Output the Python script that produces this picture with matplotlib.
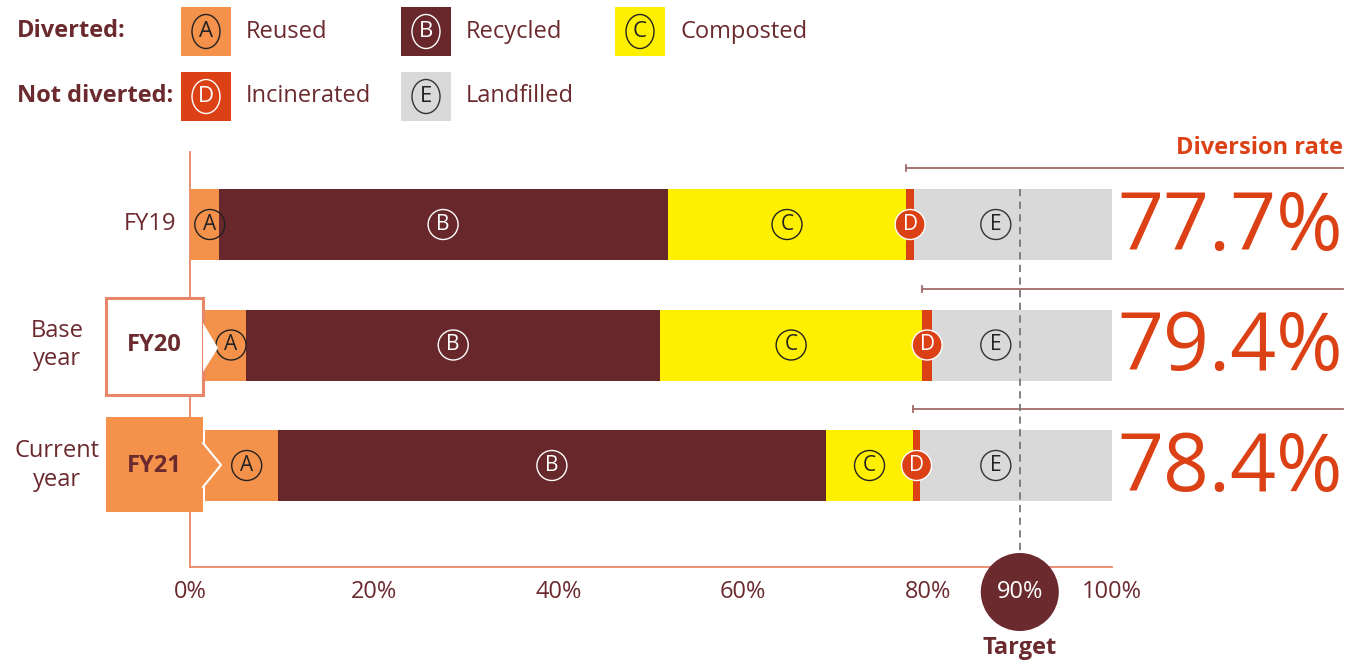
import matplotlib
matplotlib.use('Agg')
import matplotlib.pyplot as plt
from matplotlib.patches import Rectangle, Polygon, Ellipse

plt.rcParams['font.family'] = ['Open Sans', 'DejaVu Sans']

# data
years = ['FY19', 'FY20', 'FY21']
reused = [3.1, 6.1, 9.5]
recycled = [48.7, 44.9, 59.5]
composted = [25.9, 28.4, 9.4]
incinerated = [0.8, 1.1, 0.8]
landfilled = [21.5, 19.5, 20.8]
diversion = [77.7, 79.4, 78.4]
target = 90
xticks = [0, 20, 40, 60, 80, 100]

names = ['Reused', 'Recycled', 'Composted', 'Incinerated', 'Landfilled']
letters = ['A', 'B', 'C', 'D', 'E']
colors = ['#F4924C', '#68272A', '#FFF000', '#DC4116', '#D9D9D9']
ring = ['#222222', 'white', '#222222', 'white', '#333333']
brown = '#6B2A2E'
red = '#DC4116'
axis_col = '#E8866A'

W, H = 1350, 662
fig = plt.figure(figsize=(W / 100, H / 100), dpi=100)
ax = fig.add_axes([0, 0, 1, 1])
ax.axis('off')

# map 0% -> 190px, 100% -> 1112px ; rows 120.5px apart, first at 224.5px
ppu = (1112 - 190) / 100.0
x0 = -190 / ppu
ax.set_xlim(x0, x0 + W / ppu)
rowh = 120.5
y0 = -224.5 / rowh
ax.set_ylim(y0 + H / rowh, y0)


def px(x, y):
    # pixel -> data
    return x0 + x / ppu, y0 + y / rowh


series = [reused, recycled, composted, incinerated, landfilled]
ypos = list(range(len(years)))
bh = 71 / rowh
left = [0] * len(years)
lefts = []
for vals, c in zip(series, colors):
    ax.barh(ypos, vals, left=left, height=bh, color=c, zorder=2)
    lefts.append(left[:])
    left = [l + v for l, v in zip(left, vals)]

# circled letters inside bars
rx = 15 / ppu
ry = 15 / rowh


def badge(x, y, letter, fc, ec, tc, z=5):
    ax.add_patch(Ellipse((x, y), 2 * rx, 2 * ry, facecolor=fc, edgecolor=ec, lw=1.0, zorder=z))
    ax.text(x, y, letter, ha='center', va='center', fontsize=15, color=tc, zorder=z + 1)


for i in ypos:
    for k in range(5):
        l = lefts[k][i]
        v = series[k][i]
        if k == 0:
            start = max(l, 1.6 if i > 0 else 0)
            cx = (start + l + v) / 2 + 0.6
        elif k == 4:
            cx = 87.4
        else:
            cx = l + v / 2
        if k == 3:
            badge(cx, i, 'D', red, 'white', 'white', z=6)
        else:
            badge(cx, i, letters[k], 'none', ring[k], ring[k] if k != 4 else '#222222')

# axes lines
ax.plot([0, 0], [px(0, 152)[1], px(0, 567)[1]], color=axis_col, lw=1.3, zorder=1)
ax.plot([0, 100], [px(0, 567)[1]] * 2, color=axis_col, lw=1.3, zorder=1)

# target dashed line + circle
ax.plot([target, target], [px(0, 189)[1], px(0, 555)[1]], color='#777777', lw=1.3,
        ls=(0, (4, 3)), zorder=3)
ax.add_patch(Ellipse((target, px(0, 592)[1]), 78 / ppu, 78 / rowh, facecolor=brown,
                     edgecolor='none', zorder=4))
ax.text(target, px(0, 592)[1], '90%', ha='center', va='center', color='white', fontsize=17, zorder=5)
ax.text(target, px(0, 648)[1], 'Target', ha='center', va='center', color=brown,
        fontsize=17, fontweight='bold')

for t in xticks:
    if t == target:
        continue
    ax.text(t, px(0, 592)[1], f'{t}%', ha='center', va='center', color=brown, fontsize=17)

# diversion rate lines and values
ax.text(px(1343, 0)[0], px(0, 148)[1], 'Diversion rate', ha='right', va='center',
        color=red, fontsize=17, fontweight='bold')
for i, d in enumerate(diversion):
    ly = i - (56.5 / rowh)
    ax.plot([d, px(1343, 0)[0]], [ly, ly], color='#A36A6A', lw=1.3, zorder=2)
    ax.plot([d, d], [ly - 3 / rowh, ly + 3 / rowh], color='#A36A6A', lw=1.3)
    ax.text(px(1343, 0)[0], i + 4 / rowh, f'{d}%', ha='right', va='center', color=red,
            fontsize=58, fontweight='normal')

# row labels
ax.text(px(176, 0)[0], 0, years[0], ha='right', va='center', color=brown, fontsize=17)
ax.text(px(57, 0)[0], 1, 'Base\nyear', ha='center', va='center', color=brown, fontsize=17,
        linespacing=1.25)
ax.text(px(57, 0)[0], 2, 'Current\nyear', ha='center', va='center', color=brown, fontsize=17,
        linespacing=1.25)

# FY20 box (white, orange border) with arrow into bar
bx0, bx1 = px(106, 0)[0], px(203, 0)[0]
ax.add_patch(Rectangle((bx0, px(0, 298)[1]), bx1 - bx0, px(0, 395)[1] - px(0, 298)[1],
                       facecolor='white', edgecolor=axis_col, lw=2.2, zorder=7))
ax.add_patch(Polygon([px(203, 323), px(218, 348), px(203, 372)], closed=True,
                     facecolor='white', edgecolor='none', zorder=8))
ax.text((bx0 + bx1) / 2, 1, years[1], ha='center', va='center', color=brown,
        fontsize=17, fontweight='bold', zorder=9)

# FY21 box (orange) with white chevron
ax.add_patch(Rectangle((bx0, px(0, 417)[1]), bx1 - bx0, px(0, 512)[1] - px(0, 417)[1],
                       facecolor=colors[0], edgecolor='none', zorder=7))
ax.add_patch(Rectangle((bx1, px(0, 430)[1]), px(205, 0)[0] - bx1, bh,
                       facecolor='white', edgecolor='none', zorder=7))
ax.add_patch(Polygon([px(203, 443), px(221, 465), px(203, 487)],
                     closed=True, facecolor=colors[0], edgecolor='none', zorder=8))
ax.plot(*zip(px(203, 443), px(221, 465), px(203, 487)), color='white', lw=1.5, zorder=9)
ax.text((bx0 + bx1) / 2, 2, years[2], ha='center', va='center', color=brown,
        fontsize=17, fontweight='bold', zorder=9)

# legend
fig.text(17 / W, 1 - 31 / H, 'Diverted:', ha='left', va='center', color=brown,
         fontsize=17, fontweight='bold')
fig.text(17 / W, 1 - 96 / H, 'Not diverted:', ha='left', va='center', color=brown,
         fontsize=17, fontweight='bold')
leg_pos = [(181, 7), (401, 7), (615, 7), (181, 72), (401, 72)]
for k, (lx, ly) in enumerate(leg_pos):
    ax.add_patch(Rectangle(px(lx, ly), 50 / ppu, 49 / rowh, facecolor=colors[k],
                           edgecolor='none', zorder=3))
    cx, cy = px(lx + 25, ly + 24.5)
    ax.add_patch(Ellipse((cx, cy), 28 / ppu, 34 / rowh, facecolor='none',
                         edgecolor=ring[k], lw=1.0, zorder=4))
    ax.text(cx, cy, letters[k], ha='center', va='center', fontsize=16,
            color=ring[k] if k != 4 else '#222222', zorder=5)
    tx, ty = px(lx + 65, ly + 24.5)
    ax.text(tx, ty, names[k], ha='left', va='center', color=brown, fontsize=17)

fig.savefig('out.png', dpi=100)
